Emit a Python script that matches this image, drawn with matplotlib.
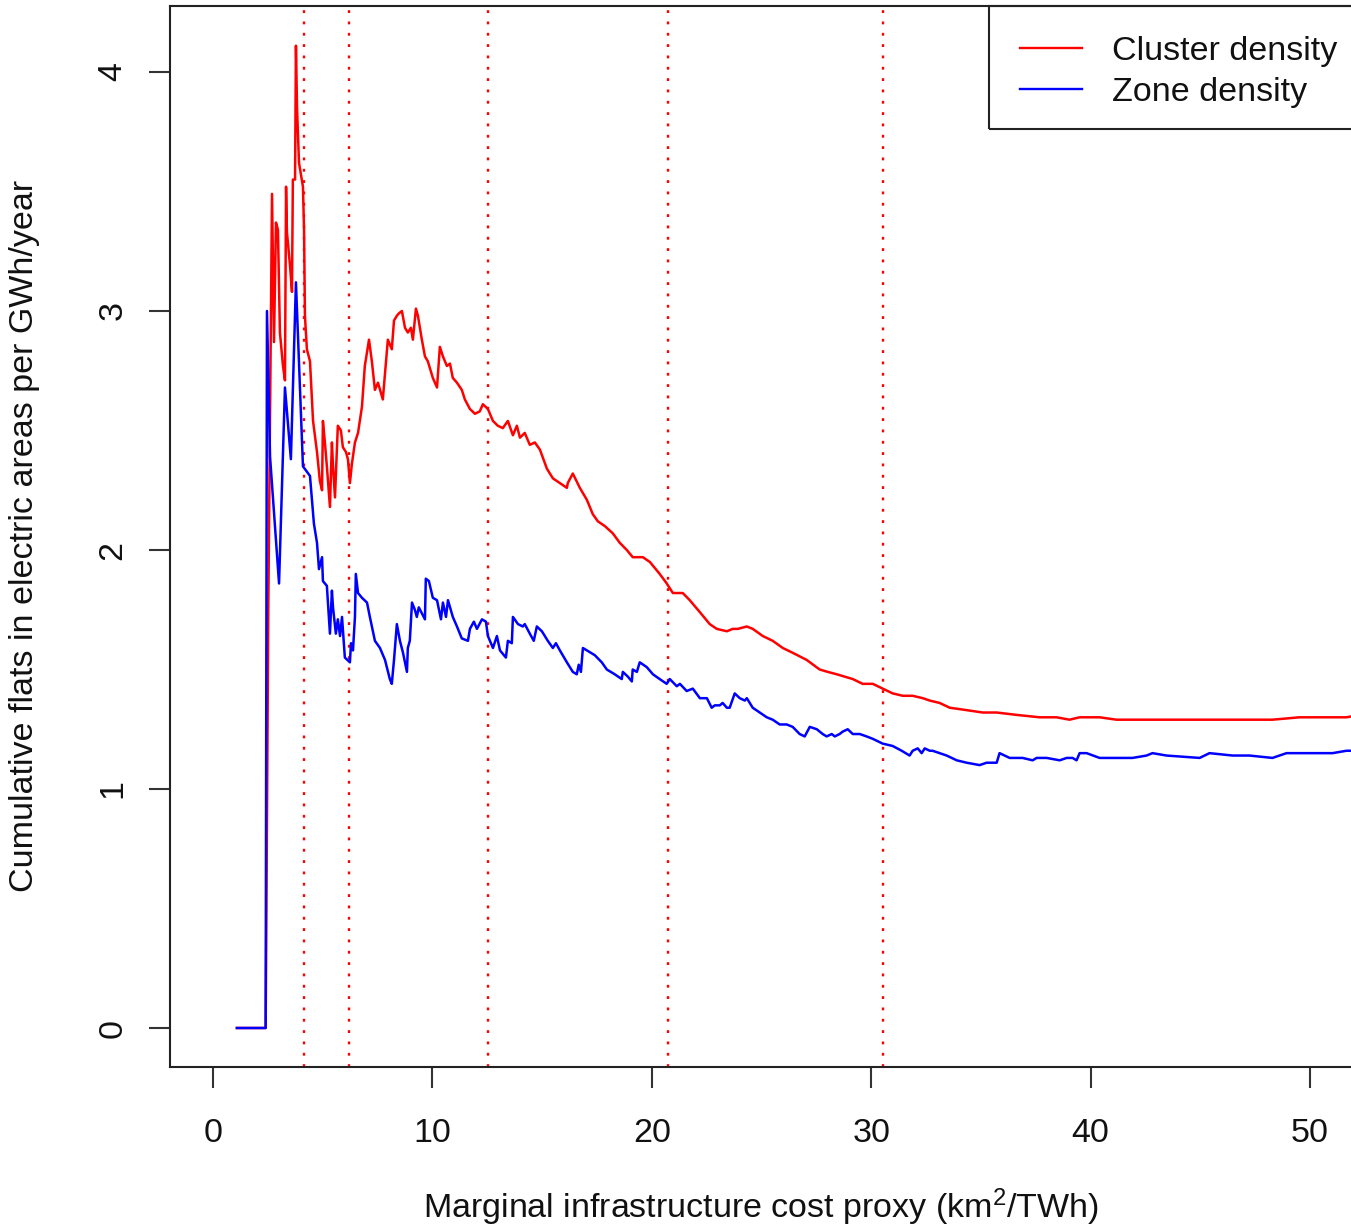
import matplotlib
matplotlib.use("Agg")
import matplotlib.pyplot as plt
from matplotlib.patches import Rectangle

plt.rcParams["font.family"] = ["Liberation Sans", "DejaVu Sans"]
plt.rcParams["mathtext.fontset"] = "custom"
plt.rcParams["mathtext.rm"] = "Liberation Sans"
plt.rcParams["mathtext.it"] = "Liberation Sans:italic"

# cumulative density series
cluster_x = [1.09, 2.40, 2.52, 2.69, 2.78, 2.87, 2.96, 3.05, 3.19, 3.28, 3.33, 3.37,
             3.51, 3.60, 3.64, 3.74, 3.78, 3.83, 3.92, 4.10, 4.15, 4.19, 4.28, 4.42,
             4.51, 4.56, 4.74, 4.87, 4.97, 5.01, 5.10, 5.19, 5.33, 5.42, 5.47, 5.56,
             5.65, 5.69, 5.83, 5.92, 6.06, 6.15, 6.24, 6.33, 6.47, 6.61, 6.79, 6.92,
             7.11, 7.24, 7.38, 7.52, 7.74, 7.97, 8.15, 8.25, 8.38, 8.47, 8.61, 8.75,
             8.88, 9.02, 9.11, 9.25, 9.34, 9.52, 9.66, 9.79, 10.02, 10.21, 10.34, 10.48,
             10.66, 10.80, 10.93, 11.12, 11.34, 11.48, 11.71, 11.94, 12.16, 12.30, 12.53,
             12.76, 12.98, 13.21, 13.44, 13.67, 13.85, 13.99, 14.21, 14.44, 14.67, 14.90,
             15.22, 15.49, 15.81, 16.13, 16.17, 16.40, 16.72, 17.04, 17.31, 17.54, 17.86,
             18.22, 18.54, 18.86, 19.13, 19.59, 19.91, 20.36, 20.68, 20.96, 21.41, 21.73,
             22.19, 22.64, 22.96, 23.42, 23.69, 23.92, 24.33, 24.60, 25.06, 25.51, 25.97,
             26.42, 27.06, 27.65, 28.02, 28.43, 28.79, 29.16, 29.61, 30.07, 30.52, 30.98,
             31.44, 31.89, 32.35, 32.67, 33.12, 33.58, 34.35, 35.08, 35.72, 36.63, 37.68,
             38.45, 39.04, 39.50, 40.41, 41.18, 41.91, 43.46, 44.97, 45.74, 47.24, 48.29,
             49.52, 51.03, 51.66, 52.26, 53.50]
cluster_y = [0.00, 0.00, 1.75, 3.49, 2.87, 3.37, 3.34, 2.91, 2.77, 2.71, 3.52, 3.33,
             3.19, 3.08, 3.55, 3.55, 4.11, 3.85, 3.62, 3.52, 3.34, 2.98, 2.84, 2.79,
             2.63, 2.54, 2.41, 2.29, 2.25, 2.54, 2.45, 2.35, 2.18, 2.45, 2.35, 2.22,
             2.43, 2.52, 2.50, 2.43, 2.41, 2.38, 2.28, 2.36, 2.45, 2.49, 2.60, 2.77,
             2.88, 2.79, 2.67, 2.70, 2.63, 2.88, 2.84, 2.96, 2.98, 2.99, 3.00, 2.93,
             2.91, 2.93, 2.88, 3.01, 2.98, 2.88, 2.81, 2.79, 2.72, 2.68, 2.85, 2.81,
             2.77, 2.78, 2.72, 2.70, 2.67, 2.63, 2.59, 2.57, 2.58, 2.61, 2.59,
             2.54, 2.52, 2.51, 2.54, 2.48, 2.52, 2.47, 2.49, 2.44, 2.45, 2.42,
             2.34, 2.30, 2.28, 2.26, 2.28, 2.32, 2.26, 2.21, 2.15, 2.12, 2.10,
             2.07, 2.03, 2.00, 1.97, 1.97, 1.95, 1.90, 1.86, 1.82, 1.82, 1.79,
             1.74, 1.69, 1.67, 1.66, 1.67, 1.67, 1.68, 1.67, 1.64, 1.62, 1.59,
             1.57, 1.54, 1.50, 1.49, 1.48, 1.47, 1.46, 1.44, 1.44, 1.42, 1.40,
             1.39, 1.39, 1.38, 1.37, 1.36, 1.34, 1.33, 1.32, 1.32, 1.31, 1.30,
             1.30, 1.29, 1.30, 1.30, 1.29, 1.29, 1.29, 1.29, 1.29, 1.29, 1.29,
             1.30, 1.30, 1.30, 1.31, 1.31]

zone_x = [1.09, 2.37, 2.40, 2.46, 2.60, 3.01, 3.28, 3.55, 3.78, 4.10, 4.42, 4.60,
          4.74, 4.83, 4.97, 5.01, 5.19, 5.33, 5.42, 5.47, 5.60, 5.69, 5.79, 5.88,
          6.01, 6.24, 6.29, 6.38, 6.47, 6.51, 6.61, 6.79, 7.02, 7.15, 7.38, 7.61,
          7.84, 8.06, 8.15, 8.25, 8.38, 8.52, 8.66, 8.84, 8.88, 8.97, 9.07, 9.20,
          9.29, 9.38, 9.66, 9.70, 9.84, 10.02, 10.21, 10.39, 10.48, 10.62, 10.71,
          10.93, 11.12, 11.34, 11.62, 11.71, 11.89, 12.03, 12.26, 12.44, 12.53,
          12.76, 12.94, 13.08, 13.35, 13.44, 13.62, 13.67, 13.90, 14.12, 14.21,
          14.44, 14.62, 14.76, 14.99, 15.26, 15.49, 15.63, 15.81, 16.13, 16.40,
          16.58, 16.67, 16.77, 16.86, 17.04, 17.40, 17.72, 17.95, 18.31, 18.63,
          18.68, 18.91, 19.09, 19.13, 19.32, 19.45, 19.77, 20.05, 20.36, 20.68,
          20.82, 21.14, 21.28, 21.59, 21.87, 22.19, 22.51, 22.73, 22.87, 23.10,
          23.23, 23.42, 23.55, 23.78, 24.01, 24.24, 24.33, 24.60, 24.92, 25.24,
          25.51, 25.83, 26.15, 26.42, 26.74, 26.97, 27.20, 27.52, 27.79, 27.97,
          28.20, 28.34, 28.56, 28.70, 28.93, 29.16, 29.48, 29.79, 30.07, 30.52,
          30.98, 31.39, 31.75, 31.89, 32.12, 32.30, 32.44, 32.67, 32.80, 33.44,
          33.90, 34.35, 34.94, 35.26, 35.72, 35.85, 36.31, 36.90, 37.36, 37.54,
          38.00, 38.59, 38.91, 39.18, 39.36, 39.50, 39.82, 40.41, 41.91, 42.55,
          42.82, 43.46, 44.97, 45.42, 46.47, 47.24, 48.29, 48.93, 49.66, 51.03,
          51.66, 52.26, 53.50]
zone_y = [0.00, 0.00, 0.00, 3.00, 2.39, 1.86, 2.68, 2.38, 3.12, 2.35, 2.31, 2.11,
          2.03, 1.92, 1.97, 1.87, 1.85, 1.65, 1.83, 1.76, 1.65, 1.71, 1.64, 1.72,
          1.55, 1.53, 1.61, 1.58, 1.72, 1.90, 1.82, 1.80, 1.78, 1.72, 1.62, 1.59,
          1.54, 1.46, 1.44, 1.54, 1.69, 1.62, 1.57, 1.49, 1.59, 1.62, 1.78, 1.75,
          1.72, 1.76, 1.71, 1.88, 1.87, 1.80, 1.79, 1.71, 1.78, 1.72, 1.79,
          1.72, 1.68, 1.63, 1.62, 1.67, 1.70, 1.67, 1.71, 1.70, 1.64,
          1.59, 1.64, 1.58, 1.55, 1.62, 1.61, 1.72, 1.69, 1.68, 1.69,
          1.65, 1.62, 1.68, 1.66, 1.62, 1.59, 1.61, 1.58, 1.53, 1.49,
          1.48, 1.52, 1.49, 1.59, 1.58, 1.56, 1.53, 1.50, 1.48, 1.46,
          1.49, 1.47, 1.45, 1.50, 1.49, 1.53, 1.51, 1.48, 1.46, 1.44,
          1.46, 1.43, 1.44, 1.41, 1.42, 1.38, 1.38, 1.34, 1.35, 1.35,
          1.36, 1.34, 1.34, 1.40, 1.38, 1.37, 1.38, 1.34, 1.32, 1.30,
          1.29, 1.27, 1.27, 1.26, 1.23, 1.22, 1.26, 1.25, 1.23, 1.22,
          1.23, 1.22, 1.23, 1.24, 1.25, 1.23, 1.23, 1.22, 1.21, 1.19,
          1.18, 1.16, 1.14, 1.16, 1.17, 1.15, 1.17, 1.16, 1.16, 1.14,
          1.12, 1.11, 1.10, 1.11, 1.11, 1.15, 1.13, 1.13, 1.12, 1.13,
          1.13, 1.12, 1.13, 1.13, 1.12, 1.15, 1.15, 1.13, 1.13, 1.14,
          1.15, 1.14, 1.13, 1.15, 1.14, 1.14, 1.13, 1.15, 1.15, 1.15,
          1.16, 1.16, 1.16]

thresholds = [4.15, 6.20, 12.53, 20.74, 30.54]
x_ticks = [0, 10, 20, 30, 40, 50]
y_ticks = [0, 1, 2, 3, 4]
series_labels = ["Cluster density", "Zone density"]

W, H = 1351, 1228
fig = plt.figure(figsize=(W / 100, H / 100), dpi=100)
# axes box runs past the right edge of the image, as in the reference
left_px, right_px, top_px, bottom_px = 170, 1400, 6, 1067
ax = fig.add_axes([left_px / W, 1 - bottom_px / H,
                   (right_px - left_px) / W, (bottom_px - top_px) / H])

px_per_x = 1097 / 50.0
ax.set_xlim((left_px - 213) / px_per_x, (right_px - 213) / px_per_x)
px_per_y = 239.0
ax.set_ylim(-(bottom_px - 1028) / px_per_y, (1028 - top_px) / px_per_y)

for xv in thresholds:
    ax.axvline(xv, color="red", lw=1.7, linestyle=(0, (1.2, 3.6)), zorder=1)

ax.plot(cluster_x, cluster_y, color="red", lw=1.8, zorder=2)
ax.plot(zone_x, zone_y, color="blue", lw=1.8, zorder=3)

edge = "#222222"
for side in ("left", "bottom", "top"):
    ax.spines[side].set_linewidth(1.5)
    ax.spines[side].set_color(edge)
ax.spines["right"].set_visible(False)

fs = 24.5
ax.set_xticks(x_ticks)
ax.set_yticks(y_ticks)
ax.tick_params(axis="both", length=15, width=1.5, color="#333333",
               labelsize=fs, labelcolor="#111111")
ax.tick_params(axis="x", pad=22)
ax.tick_params(axis="y", pad=15)
for lab in ax.get_yticklabels():
    lab.set_rotation(90)
    lab.set_va("center")

fig.text(761 / W, 1 - 1207 / H,
         r"Marginal infrastructure cost proxy (km$^2$/TWh)",
         fontsize=fs, color="#111111", ha="center", va="center")
fig.text(25 / W, 1 - 536 / H,
         "Cumulative flats in electric areas per GWh/year",
         fontsize=fs, color="#111111", ha="center", va="center", rotation=90)


def fx(px):
    return (px - left_px) / (right_px - left_px)


def fy(py):
    return (bottom_px - py) / (bottom_px - top_px)


ax.add_patch(Rectangle((fx(989), fy(129)), 1.2, fy(6) - fy(129),
                       transform=ax.transAxes, fill=False, edgecolor=edge,
                       lw=1.5, clip_on=False, zorder=5))
for i, (lbl, col) in enumerate(zip(series_labels, ["red", "blue"])):
    yl = [48, 89][i]
    ax.plot([fx(1020), fx(1082)], [fy(yl), fy(yl)], color=col, lw=1.7,
            transform=ax.transAxes, clip_on=False, zorder=6)
    ax.text(fx(1112), fy(yl), lbl, transform=ax.transAxes, fontsize=fs,
            va="center_baseline", ha="left", color="#111111", zorder=6)

fig.savefig("out.png", dpi=100)
